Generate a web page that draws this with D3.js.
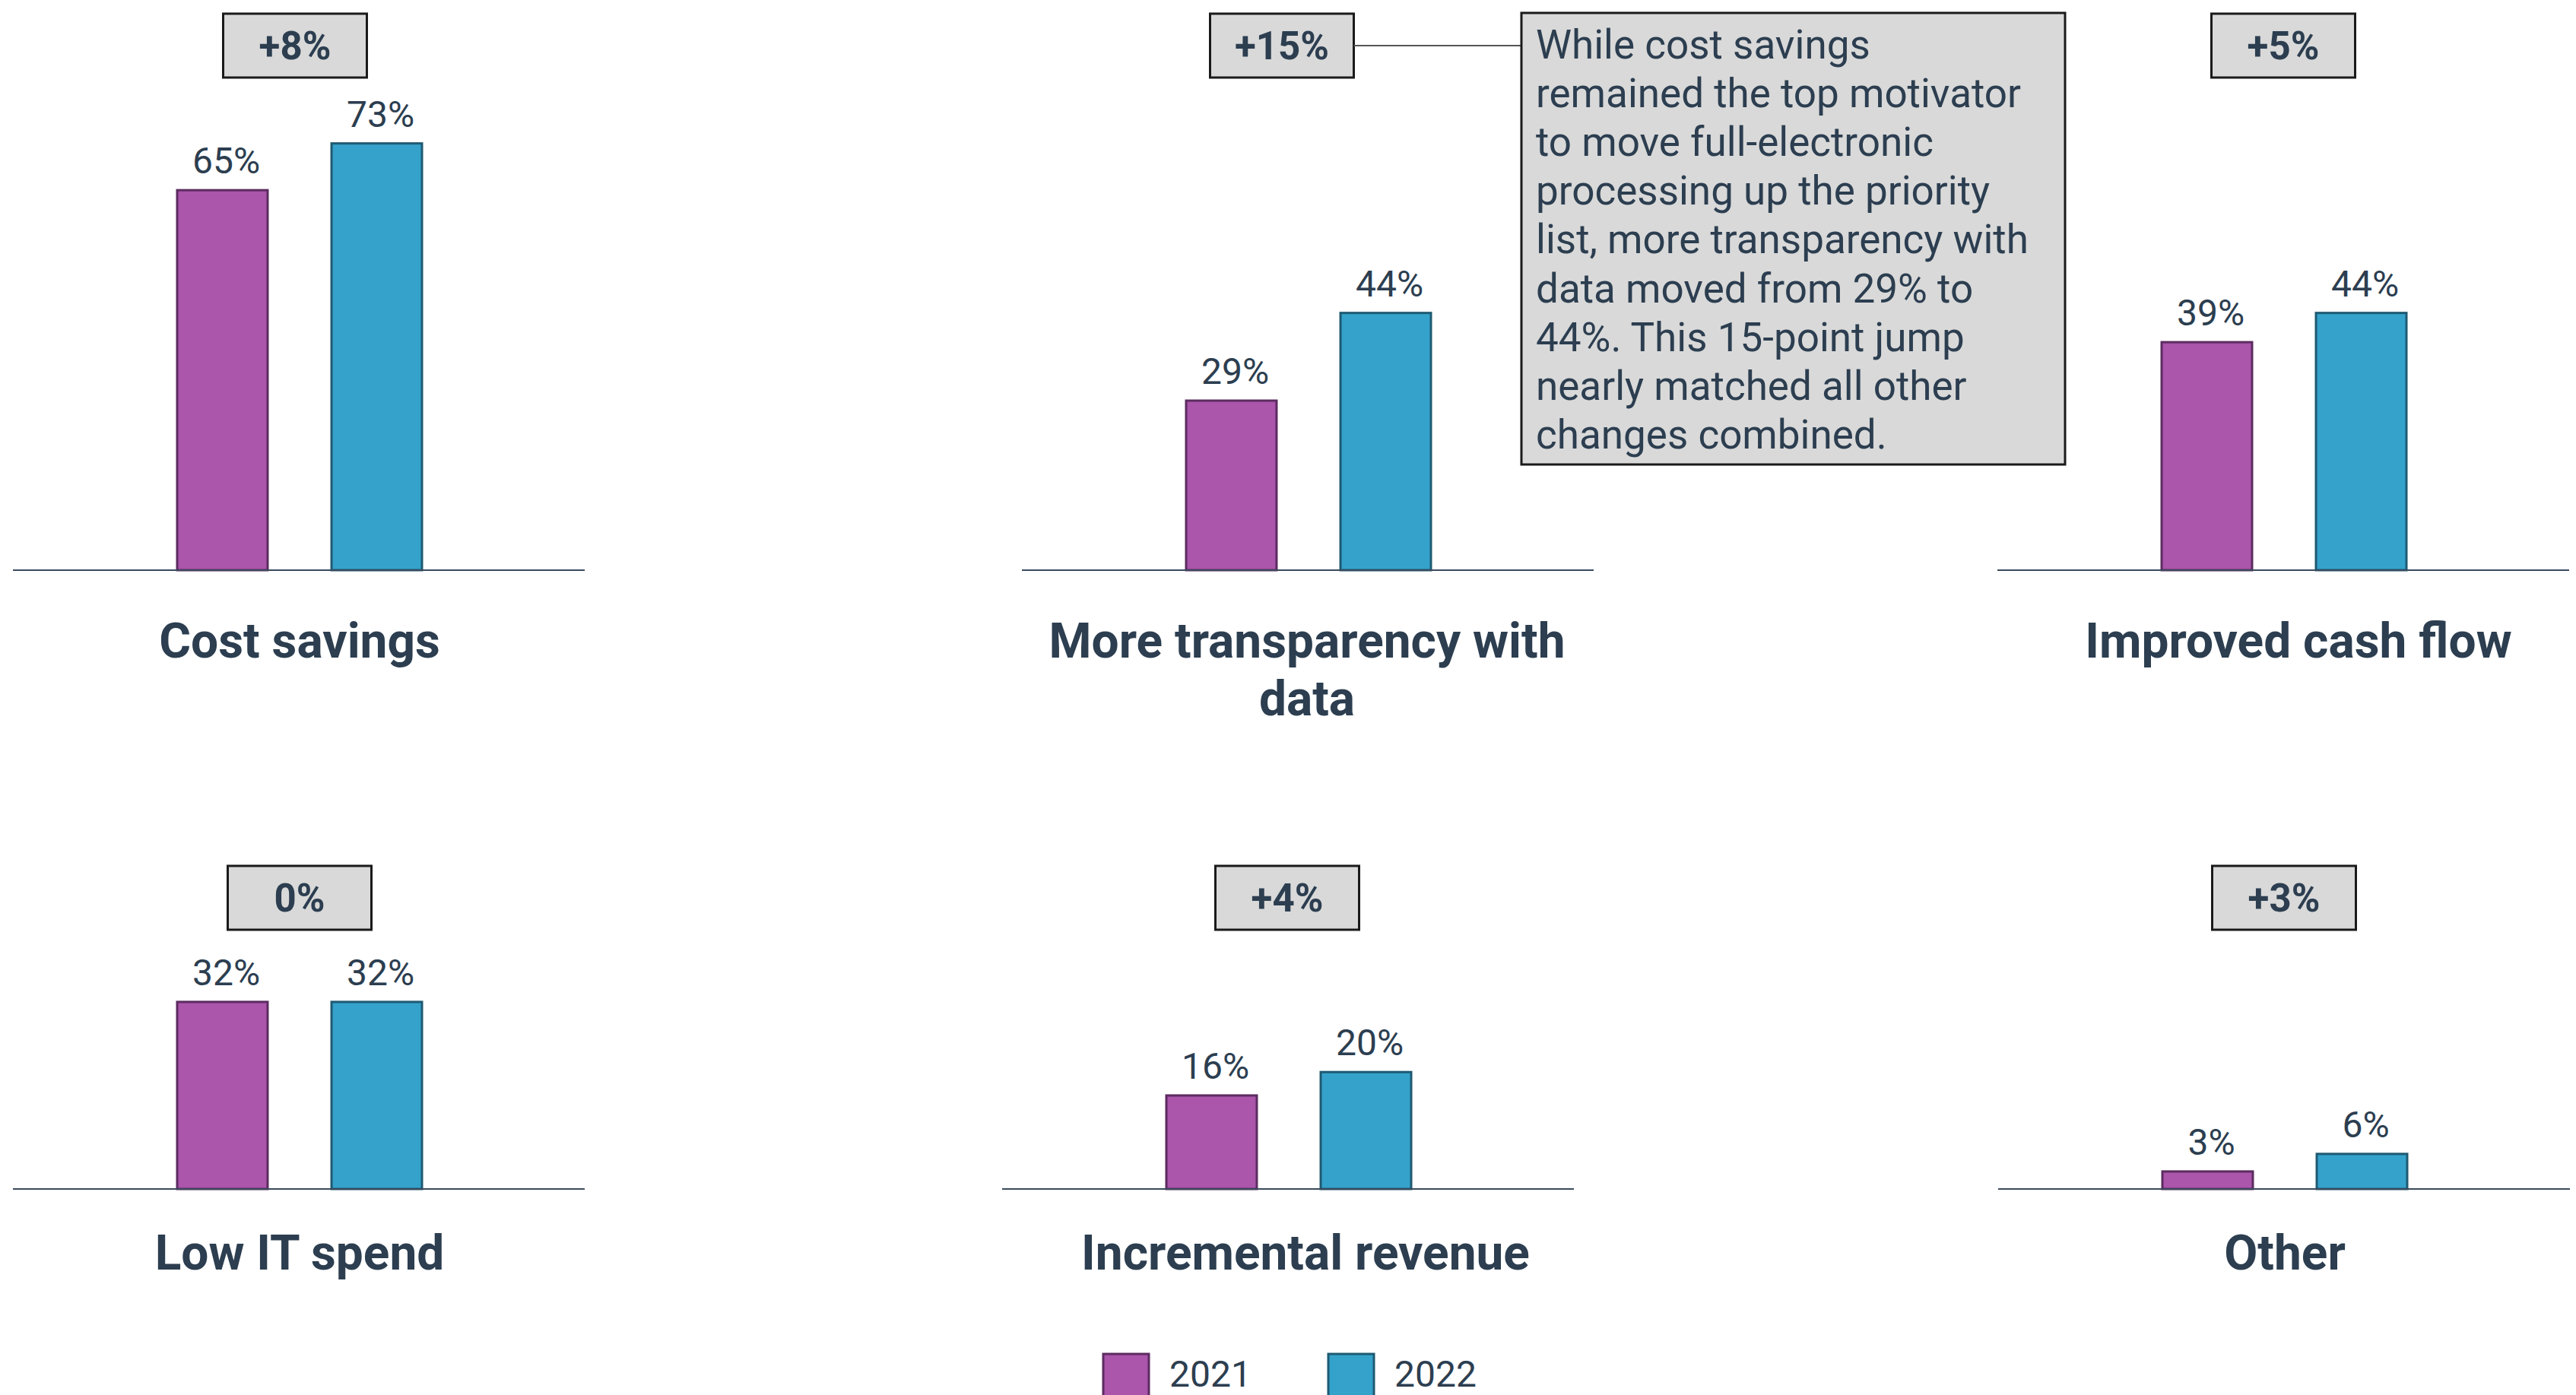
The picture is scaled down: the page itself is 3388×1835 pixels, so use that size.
<!DOCTYPE html>
<html>
<head>
<meta charset="utf-8">
<script src="https://cdn.jsdelivr.net/npm/d3@7"></script>
<style>
  html, body { margin: 0; padding: 0; background: #ffffff; }
  svg { display: block; font-family: Roboto, "Noto Sans", sans-serif; }
</style>
</head>
<body>
<svg id="chart" width="3388" height="1835"></svg>
<script>
// ---- data ----
const years = ["2021", "2022"];
const categories = ["Cost savings", "More transparency with data", "Improved cash flow", "Low IT spend", "Incremental revenue", "Other"];
const titleLines = [["Cost savings"], ["More transparency with", "data"], ["Improved cash flow"], ["Low IT spend"], ["Incremental revenue"], ["Other"]];
const values2021 = [65, 29, 39, 32, 16, 3];
const values2022 = [73, 44, 44, 32, 20, 6];
const changeLabels = ["+8%", "+15%", "+5%", "0%", "+4%", "+3%"];
const calloutLines = [
  "While cost savings",
  "remained the top motivator",
  "to move full-electronic",
  "processing up the priority",
  "list, more transparency with",
  "data moved from 29% to",
  "44%. This 15-point jump",
  "nearly matched all other",
  "changes combined."
];

// ---- layout (positions kept separate from data) ----
const panelLeft = [17, 1344, 2627, 17, 1318, 2628];
const panelBase = [750, 750, 750, 1564, 1564, 1564];
const boxTopY = [18, 18, 18, 1139, 1139, 1139];
const boxCenter = [388, 1686, 3003, 394, 1693, 3004];
const titleCenter = [394, 1719, 3023, 394, 1717, 3005];
const titleBaseline = [865, 865, 865, 1670, 1670, 1670];
const panelWidth = 752;

const colors = { "2021": "#AB55AB", "2022": "#35A2CB" };
const strokes = { "2021": "#5C2B60", "2022": "#1E5A72" };
const textColor = "#2C3E50";

const svg = d3.select("#chart");

categories.forEach((cat, i) => {
  const L = panelLeft[i];
  const base = panelBase[i];
  const g = svg.append("g");

  const x = d3.scaleBand().domain(years).range([L + 216, L + 538]).paddingInner(0.414).paddingOuter(0);
  const y = d3.scaleLinear().domain([0, 100]).range([base, base - 769]);
  const vals = [{ year: "2021", v: values2021[i] }, { year: "2022", v: values2022[i] }];

  g.selectAll("rect.bar").data(vals).join("rect")
    .attr("class", "bar")
    .attr("x", d => x(d.year))
    .attr("y", d => y(d.v))
    .attr("width", x.bandwidth())
    .attr("height", d => y(0) - y(d.v))
    .attr("fill", d => colors[d.year])
    .attr("stroke", d => strokes[d.year])
    .attr("stroke-width", 3);

  // baseline axis
  g.append("line")
    .attr("x1", L).attr("x2", L + panelWidth)
    .attr("y1", y(0)).attr("y2", y(0))
    .attr("stroke", "#3A4A5C").attr("stroke-width", 2);

  g.selectAll("text.val").data(vals).join("text")
    .attr("class", "val")
    .attr("x", d => x(d.year) + x.bandwidth() / 2 + 5)
    .attr("y", d => y(d.v) - 22)
    .attr("text-anchor", "middle")
    .attr("font-size", 48)
    .attr("fill", textColor)
    .text(d => d.v + "%");

  // change box
  const boxTop = boxTopY[i];
  g.append("rect")
    .attr("x", boxCenter[i] - 94.5).attr("y", boxTop)
    .attr("width", 189).attr("height", 84)
    .attr("fill", "#D9D9D9").attr("stroke", "#1A1A1A").attr("stroke-width", 3);
  g.append("text")
    .attr("x", boxCenter[i]).attr("y", boxTop + 42 + 18)
    .attr("text-anchor", "middle")
    .attr("font-size", 51).attr("font-weight", 700)
    .attr("fill", textColor)
    .text(changeLabels[i]);

  // title
  titleLines[i].forEach((line, k) => {
    g.append("text")
      .attr("x", titleCenter[i]).attr("y", titleBaseline[i] + k * 76)
      .attr("text-anchor", "middle")
      .attr("font-size", 64).attr("font-weight", 700)
      .attr("fill", textColor)
      .text(line);
  });
});

// connector and callout
svg.append("line")
  .attr("x1", boxCenter[1] + 94.5).attr("x2", 2001)
  .attr("y1", 60).attr("y2", 60)
  .attr("stroke", "#555555").attr("stroke-width", 2);
svg.append("rect")
  .attr("x", 2001).attr("y", 17).attr("width", 715).attr("height", 594)
  .attr("fill", "#D9D9D9").attr("stroke", "#1A1A1A").attr("stroke-width", 3);
svg.append("g").selectAll("text").data(calloutLines).join("text")
  .attr("x", 2020)
  .attr("y", (d, k) => 77 + k * 64.1)
  .attr("font-size", 53)
  .attr("fill", textColor)
  .text(d => d);

// legend
const legendX = [1451, 1747];
const legend = svg.append("g").selectAll("g").data(years).join("g")
  .attr("transform", (d, k) => `translate(${legendX[k]},1781)`);
legend.append("rect")
  .attr("width", 60).attr("height", 60)
  .attr("fill", d => colors[d]).attr("stroke", d => strokes[d]).attr("stroke-width", 3);
legend.append("text")
  .attr("x", 87).attr("y", 43)
  .attr("font-size", 48).attr("fill", textColor)
  .text(d => d);
</script>
</body>
</html>
